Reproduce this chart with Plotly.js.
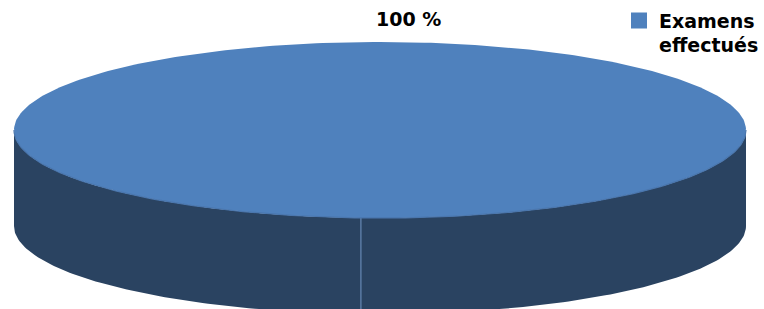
<!DOCTYPE html>
<html><head><meta charset="utf-8">
<script src="https://cdn.plot.ly/plotly-3.0.1.min.js"></script>
<style>html,body{margin:0;padding:0;background:#fff}#chart{width:764px;height:309px}</style>
</head><body><div id="chart"></div>
<script>
// ---- data ----
const categories = ["Examens effectués"];
const values = [100];
const legendLabels = ["Examens<br>effectués"];

// ---- style / geometry ----
const topColors = ["#4f81bd"];
const sideColors = ["#2a4361"];
const seamColor = "#56769e";
const cx = 380, cy = 130, rx = 366, ry = 88, depth = 96, startDeg = 93;
const FONT = "DejaVu Sans";

const total = values.reduce((a, b) => a + b, 0);
const rad = d => d * Math.PI / 180;
function arc(a0, a1, dy) {
  const xs = [], ys = [];
  const n = Math.max(2, Math.ceil(Math.abs(a1 - a0) / 1));
  for (let i = 0; i <= n; i++) {
    const a = rad(a0 + (a1 - a0) * i / n);
    xs.push(cx + rx * Math.cos(a));
    ys.push(cy + ry * Math.sin(a) + dy);
  }
  return [xs, ys];
}

const traces = [];
let a = startDeg;
const seams = [];
values.forEach((v, i) => {
  const span = v / total * 360;
  const a0 = a, a1 = a + span;
  // side pieces (front half: 0..180 deg, y downward)
  [[0, 180], [360, 540], [-360, -180]].forEach(([lo, hi]) => {
    const s = Math.max(a0, lo), e = Math.min(a1, hi);
    if (e > s) {
      const [tx, ty] = arc(s, e, 0);
      const [bx, by] = arc(e, s, depth);
      traces.push({type: "scatter", mode: "lines", x: tx.concat(bx), y: ty.concat(by),
        fill: "toself", fillcolor: sideColors[i], line: {width: 0}, hoverinfo: "skip", showlegend: false});
    }
  });
  [a0, a1].forEach(b => {
    const m = ((b % 360) + 360) % 360;
    if (m > 0 && m < 180) seams.push(m);
  });
  a = a1;
});
seams.forEach(m => {
  const x = cx + rx * Math.cos(rad(m)), y = cy + ry * Math.sin(rad(m));
  traces.push({type: "scatter", mode: "lines", x: [x, x], y: [y, y + depth],
    line: {color: seamColor, width: 1.2}, hoverinfo: "skip", showlegend: false});
});
// tops
a = startDeg;
values.forEach((v, i) => {
  const span = v / total * 360;
  const [tx, ty] = arc(a, a + span, 0);
  const xs = span >= 360 ? tx : [cx].concat(tx, [cx]);
  const ys = span >= 360 ? ty : [cy].concat(ty, [cy]);
  traces.push({type: "scatter", mode: "lines", x: xs, y: ys, fill: "toself",
    fillcolor: topColors[i], line: {width: 0}, hoverinfo: "skip", showlegend: false});
  a += span;
});
// front rim highlight
const [rxs, rys] = arc(0, 180, 0);
traces.push({type: "scatter", mode: "lines", x: rxs, y: rys, line: {color: "#4a76ad", width: 1.2},
  hoverinfo: "skip", showlegend: false});
// legend entries
values.forEach((v, i) => {
  traces.push({type: "scatter", mode: "markers", x: [null], y: [null], name: legendLabels[i],
    marker: {symbol: "square", size: 18, color: topColors[i]}, showlegend: true});
});

const annotations = values.map((v, i) => ({
  x: 408, y: 19, xref: "x", yref: "y", showarrow: false,
  text: "<b>" + Math.round(v / total * 100) + " %</b>",
  font: {family: FONT, size: 19, color: "#000"}
}));

const layout = {
  width: 764, height: 309, margin: {l: 0, r: 0, t: 0, b: 0},
  paper_bgcolor: "#fff", plot_bgcolor: "#fff",
  xaxis: {range: [0, 764], visible: false, fixedrange: true},
  yaxis: {range: [309, 0], visible: false, fixedrange: true},
  showlegend: true,
  legend: {x: 1, y: 0.995, xanchor: "right", yanchor: "top", valign: "top",
    font: {family: FONT, size: 19, color: "#000", weight: "bold"}, bgcolor: "rgba(0,0,0,0)",
    itemsizing: "trace", tracegroupgap: 0},
  annotations: annotations
};
Plotly.newPlot("chart", traces, layout, {staticPlot: true, displayModeBar: false});
</script></body></html>
